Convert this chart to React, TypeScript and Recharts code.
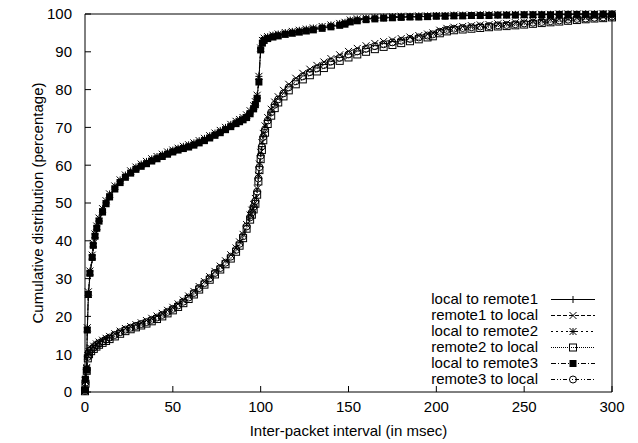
import { LineChart, Line, XAxis, YAxis, Legend } from 'recharts'

const FONT = '"Liberation Sans", Arial, Helvetica, sans-serif'

const xTicks = [0, 50, 100, 150, 200, 250, 300]
const yTicks = [0, 10, 20, 30, 40, 50, 60, 70, 80, 90, 100]

// sample positions (msec) for the "local to remoteN" curves
const localX = [
  0, 0.2, 0.9, 1.3, 1.9, 2.8, 4.1, 4.7, 5.7, 6.7,
  8, 10, 12, 14, 17, 20, 23, 26, 29, 32,
  35, 38, 41, 44, 47, 50, 53, 56, 59, 62,
  65, 68, 71, 74, 77, 80, 83, 86, 88, 90,
  92, 94, 96, 97, 98, 99, 100, 101, 102, 104,
  107, 110, 114, 118, 122, 126, 130, 135, 140, 145,
  148, 151, 155, 160, 165, 170, 175, 180, 185, 190,
  195, 200, 205, 210, 215, 220, 225, 230, 235, 240,
  245, 250, 255, 260, 265, 270, 275, 280, 285, 290,
  295, 300,
]

// sample positions (msec) for the "remoteN to local" curves
const remoteX = [
  0, 0.3, 1, 1.6, 2.3, 3.5, 5, 6.5, 8, 10,
  12, 14, 17, 20, 23, 26, 29, 32, 35, 38,
  41, 44, 47, 50, 53, 56, 59, 62, 65, 68,
  71, 74, 77, 80, 83, 86, 88, 90, 92, 94,
  95, 96, 97, 98, 98.7, 99.3, 100, 100.7, 101.5, 102.5,
  104, 106, 108, 110, 113, 116, 120, 124, 128, 132,
  136, 140, 145, 150, 155, 160, 165, 170, 175, 180,
  185, 190, 195, 198, 202, 206, 210, 215, 220, 225,
  230, 235, 240, 245, 250, 255, 260, 265, 270, 275,
  280, 285, 290, 295, 300,
]

const localToRemote1 = [
  0.8, 4.0, 6.5, 15.8, 25.0, 30.8, 35.0, 38.2, 40.7, 42.8,
  45.4, 47.9, 50.1, 51.9, 54.0, 55.7, 57.0, 58.1, 59.1, 59.9,
  60.6, 61.3, 61.9, 62.5, 63.1, 63.7, 64.2, 64.6, 65.0, 65.5,
  66.1, 66.7, 67.4, 68.1, 68.8, 69.6, 70.4, 71.2, 71.7, 72.2,
  72.9, 73.9, 75.2, 76.3, 77.9, 82.8, 90.8, 92.6, 93.2, 93.7,
  94.1, 94.4, 94.8, 95.1, 95.4, 95.7, 96.0, 96.4, 96.8, 97.2,
  97.5, 98.1, 98.4, 98.7, 98.9, 99.0, 99.1, 99.2, 99.3, 99.3,
  99.4, 99.5, 99.5, 99.6, 99.6, 99.6, 99.7, 99.7, 99.7, 99.8,
  99.8, 99.8, 99.8, 99.9, 99.9, 99.9, 99.9, 99.9, 100, 100,
  100, 100,
]

const localToRemote2 = [
  0.4, 3.0, 6.2, 17.0, 26.5, 32.0, 36.2, 39.3, 41.8, 43.9,
  46.0, 48.5, 50.6, 52.4, 54.5, 56.1, 57.4, 58.5, 59.5, 60.3,
  61.0, 61.7, 62.3, 62.9, 63.5, 64.0, 64.5, 65.0, 65.4, 65.9,
  66.5, 67.1, 67.8, 68.5, 69.2, 70.0, 70.8, 71.6, 72.1, 72.6,
  73.3, 74.4, 75.7, 76.8, 78.5, 83.5, 91.0, 93.0, 93.6, 94.0,
  94.4, 94.7, 95.1, 95.4, 95.7, 96.0, 96.3, 96.7, 97.1, 97.5,
  97.8, 98.4, 98.7, 98.9, 99.1, 99.2, 99.3, 99.4, 99.4, 99.5,
  99.5, 99.6, 99.6, 99.7, 99.7, 99.7, 99.8, 99.8, 99.8, 99.8,
  99.9, 99.9, 99.9, 99.9, 99.9, 100, 100, 100, 100, 100,
  100, 100,
]

const localToRemote3 = [
  0.6, 3.4, 5.8, 16.4, 25.8, 31.4, 35.6, 38.8, 41.2, 43.3,
  45.2, 47.6, 49.8, 51.6, 53.7, 55.4, 56.8, 57.9, 58.9, 59.7,
  60.4, 61.1, 61.7, 62.3, 62.9, 63.5, 64.0, 64.4, 64.8, 65.3,
  65.9, 66.5, 67.2, 67.9, 68.6, 69.4, 70.2, 71.0, 71.5, 72.0,
  72.6, 73.6, 74.9, 76.0, 77.6, 82.0, 90.5, 92.3, 93.0, 93.5,
  93.9, 94.2, 94.6, 94.9, 95.2, 95.5, 95.8, 96.2, 96.6, 97.0,
  97.3, 97.9, 98.2, 98.5, 98.7, 98.9, 99.0, 99.1, 99.2, 99.2,
  99.3, 99.4, 99.4, 99.5, 99.5, 99.6, 99.6, 99.6, 99.7, 99.7,
  99.7, 99.8, 99.8, 99.8, 99.8, 99.9, 99.9, 99.9, 99.9, 99.9,
  100, 100,
]

const remote1ToLocal = [
  0.3, 2.8, 6.5, 9.6, 10.7, 11.5, 12.1, 12.7, 13.2, 13.7,
  14.2, 14.7, 15.4, 16.1, 16.8, 17.3, 17.8, 18.3, 18.9, 19.5,
  20.1, 20.8, 21.6, 22.4, 23.3, 24.3, 25.4, 26.6, 27.9, 29.2,
  30.5, 31.9, 33.3, 34.7, 36.3, 38.1, 39.7, 41.7, 44.3, 46.8,
  48.1, 49.6, 51.2, 53.8, 57.3, 60.3, 63.4, 66.0, 68.4, 70.4,
  72.6, 74.8, 76.7, 78.1, 79.8, 81.4, 83.0, 84.3, 85.4, 86.4,
  87.3, 88.2, 89.2, 90.1, 90.9, 91.6, 92.2, 92.7, 93.1, 93.5,
  93.9, 94.3, 94.7, 95.0, 95.7, 96.2, 96.5, 96.7, 96.9, 97.1,
  97.2, 97.4, 97.5, 97.7, 97.9, 98.1, 98.3, 98.5, 98.7, 98.8,
  99.0, 99.1, 99.3, 99.4, 99.5,
]

const remote2ToLocal = [
  0.2, 2.2, 5.6, 8.9, 10.0, 10.8, 11.4, 12.0, 12.5, 13.0,
  13.5, 14.0, 14.7, 15.4, 16.1, 16.6, 17.1, 17.6, 18.1, 18.7,
  19.3, 20.0, 20.8, 21.6, 22.5, 23.5, 24.6, 25.8, 27.1, 28.4,
  29.7, 31.1, 32.4, 33.8, 35.3, 37.1, 38.7, 40.7, 43.2, 45.6,
  46.9, 48.3, 49.8, 52.2, 55.7, 58.7, 61.6, 64.0, 66.6, 68.6,
  70.9, 73.1, 75.1, 76.6, 78.2, 79.8, 81.4, 82.7, 83.8, 84.8,
  85.7, 86.6, 87.6, 88.5, 89.3, 90.0, 90.7, 91.3, 91.8, 92.3,
  92.8, 93.3, 93.8, 94.1, 94.9, 95.4, 95.7, 95.9, 96.1, 96.3,
  96.5, 96.7, 96.8, 97.0, 97.2, 97.4, 97.6, 97.8, 98.0, 98.2,
  98.4, 98.6, 98.8, 98.9, 99.1,
]

const remote3ToLocal = [
  0.3, 2.5, 6.0, 9.3, 10.4, 11.2, 11.8, 12.4, 12.9, 13.4,
  13.9, 14.4, 15.1, 15.8, 16.5, 17.0, 17.5, 18.0, 18.5, 19.1,
  19.7, 20.4, 21.2, 22.0, 22.9, 23.9, 25.0, 26.2, 27.5, 28.8,
  30.1, 31.5, 32.8, 34.2, 35.8, 37.6, 39.2, 41.2, 43.8, 46.2,
  47.5, 49.0, 50.5, 53.0, 56.5, 59.5, 62.5, 65.0, 67.5, 69.5,
  71.8, 74.0, 76.0, 77.4, 79.0, 80.6, 82.2, 83.5, 84.6, 85.6,
  86.5, 87.4, 88.4, 89.3, 90.1, 90.8, 91.5, 92.0, 92.5, 92.9,
  93.4, 93.8, 94.3, 94.6, 95.3, 95.8, 96.1, 96.3, 96.5, 96.7,
  96.8, 97.0, 97.1, 97.3, 97.5, 97.7, 97.9, 98.1, 98.3, 98.5,
  98.7, 98.8, 99.0, 99.1, 99.3,
]

type MarkerKind = 'plus' | 'cross' | 'star' | 'box' | 'filledBox' | 'circle'

function Marker({ kind, cx, cy }: { kind: MarkerKind; cx: number; cy: number }) {
  if (cx == null || cy == null || isNaN(cx) || isNaN(cy)) return null
  const s = 3.5
  const stroke = '#000'
  if (kind === 'plus')
    return <path d={`M${cx - s},${cy}H${cx + s}M${cx},${cy - s}V${cy + s}`} stroke={stroke} strokeWidth={1} fill="none" />
  if (kind === 'cross')
    return (
      <path
        d={`M${cx - s},${cy - s}L${cx + s},${cy + s}M${cx - s},${cy + s}L${cx + s},${cy - s}`}
        stroke={stroke}
        strokeWidth={1}
        fill="none"
      />
    )
  if (kind === 'star')
    return (
      <path
        d={`M${cx - s},${cy}H${cx + s}M${cx},${cy - s}V${cy + s}M${cx - s},${cy - s}L${cx + s},${cy + s}M${cx - s},${cy + s}L${cx + s},${cy - s}`}
        stroke={stroke}
        strokeWidth={1}
        fill="none"
      />
    )
  if (kind === 'box')
    return <rect x={cx - s} y={cy - s} width={2 * s} height={2 * s} stroke={stroke} strokeWidth={1} fill="none" />
  if (kind === 'filledBox')
    return <rect x={cx - s} y={cy - s} width={2 * s} height={2 * s} fill={stroke} />
  return <circle cx={cx} cy={cy} r={s} stroke={stroke} strokeWidth={1} fill="none" />
}

const series: { name: string; xs: number[]; ys: number[]; dash?: string; marker: MarkerKind }[] = [
  { name: 'local to remote1', xs: localX, ys: localToRemote1, marker: 'plus' },
  { name: 'remote1 to local', xs: remoteX, ys: remote1ToLocal, dash: '4 2', marker: 'cross' },
  { name: 'local to remote2', xs: localX, ys: localToRemote2, dash: '2 3', marker: 'star' },
  { name: 'remote2 to local', xs: remoteX, ys: remote2ToLocal, dash: '1 1', marker: 'box' },
  { name: 'local to remote3', xs: localX, ys: localToRemote3, dash: '5 2 1 2', marker: 'filledBox' },
  { name: 'remote3 to local', xs: remoteX, ys: remote3ToLocal, dash: '4 2 1 2 1 2', marker: 'circle' },
]

function LegendBox() {
  return (
    <div style={{ fontFamily: FONT, fontSize: 15, color: '#000' }}>
      {series.map((s) => (
        <div key={s.name} style={{ display: 'flex', alignItems: 'center', height: 16 }}>
          <span style={{ width: 168, textAlign: 'right', lineHeight: '16px', whiteSpace: 'nowrap' }}>{s.name}</span>
          <svg width={44} height={16} style={{ marginLeft: 13, display: 'block' }}>
            <line x1={0} y1={8.5} x2={44} y2={8.5} stroke="#000" strokeWidth={1} strokeDasharray={s.dash} />
            <Marker kind={s.marker} cx={22} cy={8.5} />
          </svg>
        </div>
      ))}
    </div>
  )
}

const tickStyle = { fill: '#000', fontSize: 15, fontFamily: FONT }

export default function App() {
  return (
    <div style={{ position: 'absolute', left: 0, top: 0, background: '#fff' }}>
      <LineChart width={638} height={443} margin={{ top: 13, right: 25, left: 0, bottom: 0 }}>
        <XAxis
          dataKey="x"
          type="number"
          domain={[0, 300]}
          ticks={xTicks}
          interval={0}
          tickSize={-6}
          tickMargin={15}
          height={51}
          tick={tickStyle}
          stroke="#000"
          axisLine={{ stroke: '#000' }}
          tickLine={{ stroke: '#000' }}
          label={{
            value: 'Inter-packet interval (in msec)',
            position: 'insideBottom',
            offset: 7,
            fill: '#000',
            fontSize: 15,
            fontFamily: FONT,
          }}
        />
        <XAxis
          xAxisId="top"
          orientation="top"
          type="number"
          domain={[0, 300]}
          ticks={xTicks}
          interval={0}
          tickSize={-6}
          height={1}
          tick={false}
          axisLine={{ stroke: '#000' }}
          tickLine={{ stroke: '#000' }}
        />
        <YAxis
          type="number"
          domain={[0, 100]}
          ticks={yTicks}
          interval={0}
          tickSize={-6}
          tickMargin={19}
          width={85}
          tick={tickStyle}
          axisLine={{ stroke: '#000' }}
          tickLine={{ stroke: '#000' }}
          label={{
            value: 'Cumulative distribution (percentage)',
            angle: -90,
            position: 'insideLeft',
            offset: 38,
            fill: '#000',
            fontSize: 15,
            fontFamily: FONT,
            style: { textAnchor: 'middle' },
          }}
        />
        <YAxis
          yAxisId="right"
          orientation="right"
          type="number"
          domain={[0, 100]}
          ticks={yTicks}
          interval={0}
          tickSize={-6}
          width={1}
          tick={false}
          axisLine={{ stroke: '#000' }}
          tickLine={{ stroke: '#000' }}
        />
        <Legend
          layout="horizontal"
          verticalAlign="middle"
          align="center"
          wrapperStyle={{ position: 'absolute', left: 370, top: 291, width: 240 }}
          content={() => <LegendBox />}
        />
        {series.map((s) => (
          <Line
            key={s.name}
            name={s.name}
            data={s.xs.map((x, i) => ({ x, y: s.ys[i] }))}
            dataKey="y"
            type="linear"
            stroke="#000"
            strokeWidth={1}
            strokeDasharray={s.dash}
            dot={(p: any) => <Marker key={`${s.name}-${p.index}`} kind={s.marker} cx={p.cx} cy={p.cy} />}
            activeDot={false}
            isAnimationActive={false}
          />
        ))}
      </LineChart>
    </div>
  )
}
